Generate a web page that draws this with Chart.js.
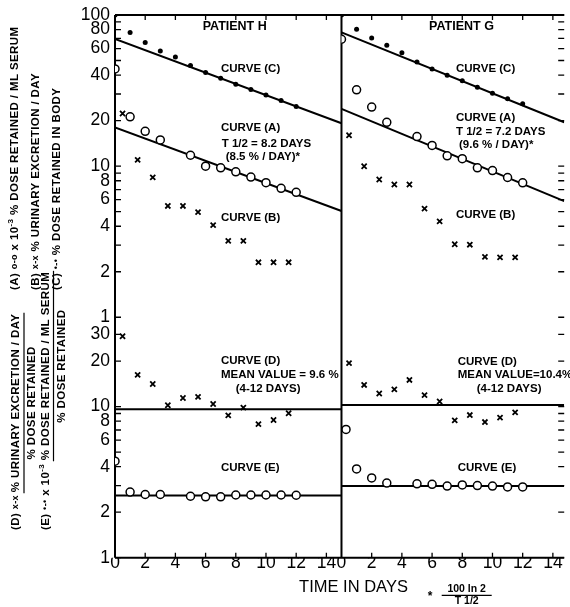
<!DOCTYPE html>
<html><head><meta charset="utf-8">
<script src="https://cdn.jsdelivr.net/npm/chart.js@4.4.0/dist/chart.umd.min.js"></script>
<style>html,body{margin:0;padding:0;background:#fff;}#wrap{width:570px;height:607px;position:relative;}</style>
</head><body><div id="wrap"><canvas id="c" width="570" height="607"></canvas></div>
<script>
// ---------- DATA ----------
// Patient H
const hC_day = [0,1,2,3,4,5,6,7,8,9,10,11,12];
const hC_val = [100,76.5,65.7,57.7,52.7,46.4,41.7,38.1,34.8,32.1,29.6,27.2,24.8];
const hA_day = [0,1,2,3,5,6,7,8,9,10,11,12];
const hA_val = [44,21.2,17.0,14.9,11.8,10.0,9.75,9.17,8.47,7.77,7.13,6.71];
const hB_day = [0.5,1.5,2.5,3.5,4.5,5.5,6.5,7.5,8.5,9.5,10.5,11.5];
const hB_val = [22.3,11.0,8.43,5.45,5.45,4.96,4.07,3.2,3.2,2.31,2.31,2.31];
const hD_day = [0.5,1.5,2.5,3.5,4.5,5.5,6.5,7.5,8.5,9.5,10.5,11.5];
const hD_val = [29.2,16.2,14.1,10.2,11.4,11.6,10.4,8.75,9.85,7.66,8.15,9.03];
const hE_day = [0,1,2,3,5,6,7,8,9,10,11,12];
const hE_val = [4.35,2.72,2.62,2.62,2.55,2.53,2.53,2.60,2.60,2.60,2.60,2.59];
const hCfit_day = [0,15], hCfit_val = [69.5,19.2];
const hAfit_day = [0,15], hAfit_val = [18.0,5.05];
const hDmean_day = [0,15], hDmean_val = [9.6,9.6];
const hEmean_day = [0,15], hEmean_val = [2.58,2.58];
// Patient G
const gC_day = [0,1,2,3,4,5,6,7,8,9,10,11,12];
const gC_val = [100,80.4,70.4,63.0,56.3,48.9,44.0,40.0,36.7,33.3,30.4,27.9,25.9];
const gA_day = [0,1,2,3,5,6,7,8,9,10,11,12];
const gA_val = [69.1,32.0,24.6,19.5,15.7,13.7,11.7,11.2,9.75,9.35,8.41,7.76];
const gB_day = [0.5,1.5,2.5,3.5,4.5,5.5,6.5,7.5,8.5,9.5,10.5,11.5];
const gB_val = [16.0,9.98,8.16,7.56,7.56,5.23,4.31,3.04,3.02,2.51,2.49,2.49];
const gD_day = [0.5,1.5,2.5,3.5,4.5,5.5,6.5,7.5,8.5,9.5,10.5,11.5];
const gD_val = [19.4,13.9,12.2,13.0,15.0,11.9,10.8,8.11,8.79,7.90,8.45,9.16];
const gE_day = [0.3,1,2,3,5,6,7,8,9,10,11,12];
const gE_val = [7.06,3.87,3.37,3.12,3.08,3.06,2.98,3.03,3.0,2.98,2.94,2.94];
const gCfit_day = [0,14.75], gCfit_val = [76.8,19.5];
const gAfit_day = [0,14.75], gAfit_val = [23.9,5.87];
const gDmean_day = [0,14.75], gDmean_val = [10.25,10.25];
const gEmean_day = [0,14.75], gEmean_val = [2.98,2.98];
// Tick labels
const upperTickLabels = [100,80,60,40,20,10,8,6,4,2,1];
const lowerTickLabels = [30,20,10,8,6,4,2,1];
const upperTickMarks = [1,2,3,4,5,6,7,8,9,10,20,30,40,50,60,70,80,90,100];
const lowerTickMarks = [1,2,3,4,5,6,7,8,9,10,20,30];
const dayTicks = [0,2,4,6,8,10,12,14];

// ---------- STYLE ----------
const FONT = '"Liberation Sans", Arial, sans-serif';
const TS = 11.5;
const pts = (xs, ys) => xs.map((x, i) => ({x, y: ys[i]}));
function dots(xs, ys, xa, ya) {
  return {data: pts(xs, ys), xAxisID: xa, yAxisID: ya, pointStyle: 'circle', pointRadius: 2.5,
    backgroundColor: '#000', borderColor: '#000', borderWidth: 0, showLine: false};
}
function rings(xs, ys, xa, ya) {
  return {data: pts(xs, ys), xAxisID: xa, yAxisID: ya, pointStyle: 'circle', pointRadius: 4,
    backgroundColor: '#fff', borderColor: '#000', borderWidth: 1.5, showLine: false};
}
function crosses(xs, ys, xa, ya) {
  return {data: pts(xs, ys), xAxisID: xa, yAxisID: ya, pointStyle: 'crossRot', pointRadius: 3.6,
    borderColor: '#000', borderWidth: 1.8, showLine: false};
}
function line(xs, ys, xa, ya) {
  return {data: pts(xs, ys), xAxisID: xa, yAxisID: ya, showLine: true, pointRadius: 0,
    borderColor: '#000', borderWidth: 2, fill: false};
}

const datasets = [
  dots(hC_day, hC_val, 'xH', 'yTop'), rings(hA_day, hA_val, 'xH', 'yTop'), crosses(hB_day, hB_val, 'xH', 'yTop'),
  crosses(hD_day, hD_val, 'xH', 'yBot'), rings(hE_day, hE_val, 'xH', 'yBot'),
  dots(gC_day, gC_val, 'xG', 'yTop'), rings(gA_day, gA_val, 'xG', 'yTop'), crosses(gB_day, gB_val, 'xG', 'yTop'),
  crosses(gD_day, gD_val, 'xG', 'yBot'), rings(gE_day, gE_val, 'xG', 'yBot'),
  line(hCfit_day, hCfit_val, 'xH', 'yTop'), line(hAfit_day, hAfit_val, 'xH', 'yTop'),
  line(hDmean_day, hDmean_val, 'xH', 'yBot'), line(hEmean_day, hEmean_val, 'xH', 'yBot'),
  line(gCfit_day, gCfit_val, 'xG', 'yTop'), line(gAfit_day, gAfit_val, 'xG', 'yTop'),
  line(gDmean_day, gDmean_val, 'xG', 'yBot'), line(gEmean_day, gEmean_val, 'xG', 'yBot'),
];

const near = (arr, v) => arr.some(a => Math.abs(a - v) < 1e-6);
function xScale(max, weight) {
  return {type: 'linear', position: 'bottom', stack: 'x', stackWeight: weight, min: 0, max: max,
    grid: {display: false, drawTicks: false}, border: {display: false},
    ticks: {stepSize: 2, includeBounds: false, autoSkip: false, maxRotation: 0, padding: -3, color: '#000',
      font: {family: FONT, size: 17.5, lineHeight: 1}, callback: v => near(dayTicks, v) ? String(v) : ''},
    afterFit: s => { s.height = 49.3; s.paddingLeft = 0; s.paddingRight = 0; }};
}
function yScale(max, weight, labels) {
  return {type: 'logarithmic', position: 'left', stack: 'y', stackWeight: weight, min: 1, max: max,
    grid: {display: false, drawTicks: false}, border: {display: false},
    ticks: {autoSkip: false, padding: 5, color: '#000', font: {family: FONT, size: 17.5, lineHeight: 1},
      callback: v => near(labels, v) ? String(v) : ''},
    afterFit: s => { s.width = 115; s.paddingTop = 0; s.paddingBottom = 0; }};
}

const ANN = [
  ['PATIENT H', 234.7, 27, 'center', 12.5], ['CURVE (C)', 221, 69], ['CURVE (A)', 221, 128],
  ['T 1/2 = 8.2 DAYS', 221.7, 144], ['(8.5 % / DAY)*', 225.7, 157], ['CURVE (B)', 221, 218],
  ['PATIENT G', 461.5, 27, 'center', 12.5], ['CURVE (C)', 456, 69], ['CURVE (A)', 456, 118],
  ['T 1/2 = 7.2 DAYS', 456, 132], ['(9.6 % / DAY)*', 459, 145], ['CURVE (B)', 456, 215],
  ['CURVE (D)', 221, 361], ['MEAN VALUE = 9.6 %', 221, 375], ['(4-12 DAYS)', 235.7, 389], ['CURVE (E)', 221, 468],
  ['CURVE (D)', 457.7, 362], ['MEAN VALUE=10.4%', 457.7, 375], ['(4-12 DAYS)', 476.7, 389], ['CURVE (E)', 457.7, 468],
];

function setF(ctx, size) {
  ctx.font = 'bold ' + size + 'px ' + FONT;
  try { ctx.letterSpacing = '0.4px'; } catch (e) {}
}
function rotText(ctx, x, y, parts) {
  ctx.save(); ctx.translate(x, y); ctx.rotate(-Math.PI / 2);
  ctx.textBaseline = 'middle'; ctx.textAlign = 'left'; ctx.fillStyle = '#000';
  let pos = 0;
  for (const p of parts) {
    setF(ctx, p.size || TS);
    ctx.fillText(p.t, pos, p.dy || 0);
    pos += ctx.measureText(p.t).width;
  }
  ctx.restore();
  return pos;
}
function rotFrac(ctx, x, y0, prefix, num, den, barX, denX) {
  const pl = rotText(ctx, x, y0, prefix);
  const ns = y0 - pl;
  const nl = rotText(ctx, x, ns, num);
  ctx.save(); ctx.strokeStyle = '#000'; ctx.lineWidth = 1.2;
  ctx.beginPath(); ctx.moveTo(barX, ns + 1); ctx.lineTo(barX, ns - nl - 1); ctx.stroke(); ctx.restore();
  ctx.save(); setF(ctx, TS);
  const dl = ctx.measureText(den).width; ctx.restore();
  rotText(ctx, denX, ns - nl / 2 + dl / 2, [{t: den}]);
}

const frame = {
  id: 'frame',
  beforeDatasetsDraw(chart) {
    const {ctx, chartArea: a, scales} = chart;
    const xH = scales.xH, xG = scales.xG, yT = scales.yTop, yB = scales.yBot;
    ctx.save();
    ctx.strokeStyle = '#000'; ctx.lineWidth = 2;
    ctx.beginPath();
    ctx.moveTo(a.left, a.top); ctx.lineTo(a.right, a.top);
    ctx.moveTo(a.left, a.top); ctx.lineTo(a.left, a.bottom);
    ctx.moveTo(a.left, a.bottom); ctx.lineTo(a.right, a.bottom);
    const xd = xG.getPixelForValue(0);
    ctx.moveTo(xd, a.top); ctx.lineTo(xd, a.bottom);
    ctx.stroke();
    ctx.lineWidth = 1.3; ctx.beginPath();
    const L = 6;
    const ymarks = [[yT, upperTickMarks], [yB, lowerTickMarks]];
    for (const [s, marks] of ymarks) for (const v of marks) {
      const y = s.getPixelForValue(v);
      ctx.moveTo(a.left, y); ctx.lineTo(a.left + L, y);
      ctx.moveTo(a.right, y); ctx.lineTo(a.right - L, y);
    }
    for (const s of [xH, xG]) for (const d of dayTicks) {
      if (d === 0) continue;
      const x = s.getPixelForValue(d);
      ctx.moveTo(x, a.top); ctx.lineTo(x, a.top + 5);
      ctx.moveTo(x, a.bottom); ctx.lineTo(x, a.bottom - 5);
    }
    ctx.stroke();
    ctx.restore();
  },
  afterDraw(chart) {
    const {ctx} = chart;
    ctx.save();
    ctx.fillStyle = '#000'; ctx.textBaseline = 'middle';
    for (const [t, x, y, al, sz] of ANN) {
      ctx.font = 'bold ' + (sz || 11.5) + 'px ' + FONT;
      ctx.textAlign = al || 'left'; ctx.fillText(t, x, y);
    }
    ctx.font = '16.5px ' + FONT; ctx.textAlign = 'center';
    ctx.fillText('TIME IN DAYS', 353.5, 587);
    ctx.font = 'bold 12px ' + FONT; ctx.fillText('*', 430, 597);
    ctx.font = 'bold 10.5px ' + FONT;
    ctx.fillText('100 ln 2', 466.7, 589.5);
    ctx.fillText('T 1/2', 466.7, 601.5);
    ctx.lineWidth = 1.3; ctx.beginPath(); ctx.moveTo(441.7, 595.3); ctx.lineTo(491.7, 595.3); ctx.stroke();
    ctx.restore();
    rotText(ctx, 15, 290, [{t: '(A) '}, {t: 'o-o', size: 9}, {t: ' x 10'}, {t: '-3', size: 8, dy: -4}, {t: ' % DOSE RETAINED / ML SERUM'}]);
    rotText(ctx, 36, 290, [{t: '(B) '}, {t: 'x-x', size: 9}, {t: ' % URINARY EXCRETION / DAY'}]);
    rotText(ctx, 57, 290, [{t: '(C) '}, {t: '\u2022-\u2022', size: 9}, {t: ' % DOSE RETAINED IN BODY'}]);
    rotFrac(ctx, 16, 530, [{t: '(D) '}, {t: 'x-x ', size: 9}], [{t: '% URINARY EXCRETION / DAY'}], '% DOSE RETAINED', 24, 31.5);
    rotFrac(ctx, 46, 530, [{t: '(E) '}, {t: '\u2022-\u2022', size: 9}, {t: ' x 10'}, {t: '-3', size: 8, dy: -4}, {t: ' '}],
      [{t: '% DOSE RETAINED / ML SERUM'}], '% DOSE RETAINED', 53.5, 61.5);
  }
};

new Chart(document.getElementById('c'), {
  type: 'scatter',
  data: {datasets},
  options: {
    responsive: false, animation: false, events: [],
    layout: {padding: {top: 15, left: 0, right: 0, bottom: 0}},
    plugins: {legend: {display: false}, tooltip: {enabled: false}},
    scales: {
      xH: xScale(15, 15),
      xG: xScale(14.75, 14.75),
      yBot: yScale(39, Math.log10(39), lowerTickLabels),
      yTop: yScale(100, 2, upperTickLabels),
    }
  },
  plugins: [frame]
});
</script>
</body></html>
